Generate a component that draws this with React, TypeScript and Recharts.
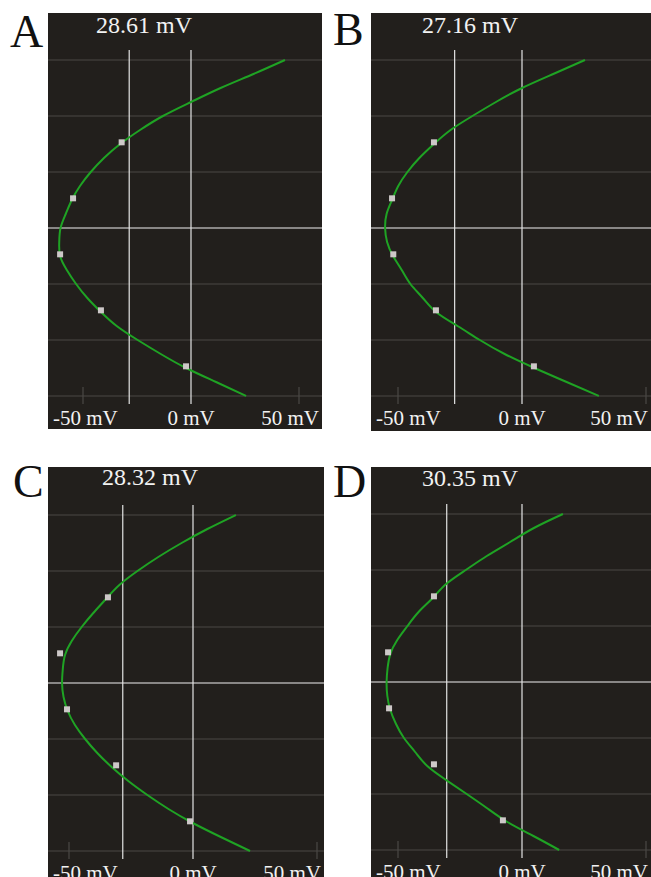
import React from 'react';
import { ComposedChart, Line, XAxis, YAxis, ReferenceLine } from 'recharts';

// Shared vertical levels (grid units, 0 = white centre line)
const yLevels = [3, 2.75, 2.5, 2.25, 2, 1.75, 1.5, 1.25, 1, 0.75, 0.5, 0.25, 0, -0.25, -0.5, -0.75, -1, -1.25, -1.5, -1.75, -2, -2.25, -2.5, -2.75, -3];

// Green trace values (mV) per panel, one per level
const curveA = [43.5, 28.9, 13.7, 0, -13, -23.6, -32.8, -40.3, -46.4, -51.4, -55.2, -58.0, -60.4, -61.0, -60.6, -57.5, -53.2, -48.0, -41.7, -34.4, -24.7, -14.0, -2.3, 11.6, 25.5];
const curveB = [25.4, 12.6, 0, -10.5, -20, -28.8, -35.5, -41.4, -46.2, -49.9, -52.4, -54.6, -55.2, -54.4, -52.0, -48.5, -45.0, -40.0, -34.7, -26.0, -17.0, -7.0, 5.0, 18.0, 31.0];
const curveC = [17.3, 5.8, -4.6, -14.0, -22.4, -29.7, -35.1, -40.2, -44.9, -48.9, -51.6, -52.5, -52.8, -52.2, -50.5, -47.6, -43.5, -38.6, -32.8, -26.1, -18.4, -9.9, -0.1, 11.2, 23.0];
const curveD = [16.5, 4.8, -4.8, -14.2, -22.7, -30.6, -36.0, -41.7, -46.2, -50.3, -53.1, -54.2, -54.6, -54.3, -53.1, -50.8, -47.6, -43.1, -38.2, -30.6, -22.3, -14.2, -5.9, 4.6, 15.0];

// Grey square markers
const squareLevels = [1.53, 0.53, -0.47, -1.47, -2.47];
const squaresA = [-32.1, -54.6, -60.6, -41.7, -2.3];
const squaresB = [-35.5, -52.4, -51.9, -34.7, 4.8];
const squaresC = [-34.3, -53.6, -50.8, -31.0, -1.2];
const squaresD = [-35.5, -54.0, -53.6, -35.5, -7.7];

const xTicks = [-50, 0, 50];
const gridLevels = [-3, -2, -1, 1, 2, 3];
const panelLetters = ['A', 'B', 'C', 'D'];
const cursorDiffs = [28.61, 27.16, 28.32, 30.35];

const curves = [curveA, curveB, curveC, curveD];
const squares = [squaresA, squaresB, squaresC, squaresD];

// Layout (pixels)
const layouts = [
  { left: 48, top: 13, width: 274, height: 416, center: 228, zero: 191, scale: 2.16, titleX: 96, titleY: 33, letterX: 10, letterY: 47 },
  { left: 371, top: 13, width: 280, height: 418, center: 228, zero: 522, scale: 2.48, titleX: 422, titleY: 33, letterX: 333, letterY: 45 },
  { left: 48, top: 467, width: 276, height: 420, center: 683, zero: 193, scale: 2.48, titleX: 102, titleY: 485, letterX: 13, letterY: 497 },
  { left: 371, top: 467, width: 280, height: 420, center: 682, zero: 522, scale: 2.48, titleX: 422, titleY: 486, letterX: 333, letterY: 497 },
];

const UNIT = 56;
const ABOVE = 178;
const BELOW = 176;

const BG = '#221f1c';
const GRID = '#4b4845';
const CURSOR = '#e4e4e4';
const CENTER = '#f0f0f0';
const GREEN = '#1fa324';
const SQUARE = '#cdc8c8';
const SERIF = "'Liberation Serif', 'Times New Roman', serif";

const charW: Record<string, number> = { '-': 0.333, '0': 0.5, '5': 0.5, ' ': 0.25, m: 0.778, V: 0.722 };

const toPoints = (xs: number[], ys: number[]) => xs.map((x, i) => ({ x, y: ys[i] }));

function makeTick(width: number) {
  return (props: any) => {
    const { x, y, payload } = props;
    const v = payload.value;
    const label = `${v} mV`;
    const w = label.split('').reduce((s, c) => s + (charW[c] ?? 0.5), 0) * 21;
    let anchor: 'middle' | 'start' | 'end' = 'middle';
    let tx = x;
    if (x - w / 2 < 5) {
      anchor = 'start';
      tx = 5;
    } else if (x + w / 2 > width - 3) {
      anchor = 'end';
      tx = width - 3;
    }
    return (
      <g>
        {v !== 0 && <line x1={x} x2={x} y1={y - 17} y2={y} stroke={GRID} strokeWidth={1.2} />}
        <text x={tx} y={y + 21} textAnchor={anchor} fill="#f2f2f2" fontSize={21} fontFamily={SERIF}>
          {label}
        </text>
      </g>
    );
  };
}

const squareDot = (props: any) => {
  const { cx, cy, index } = props;
  if (cx == null || cy == null) return <g key={`sq-${index}`} />;
  return <rect key={`sq-${index}`} x={cx - 3} y={cy - 3} width={6} height={6} fill={SQUARE} />;
};

function Panel({ idx }: { idx: number }) {
  const L = layouts[idx];
  const marginTop = (L.center - L.top) - ABOVE;
  const plotH = ABOVE + BELOW;
  const axisH = L.height - marginTop - plotH;
  const xDomain = [(0 - (L.zero - L.left)) / L.scale, (L.width - (L.zero - L.left)) / L.scale];
  const yDomain = [-BELOW / UNIT, ABOVE / UNIT];
  const curveData = toPoints(curves[idx], yLevels);
  const squareData = toPoints(squares[idx], squareLevels);
  return (
    <div style={{ position: 'absolute', left: L.left, top: L.top, width: L.width, height: L.height, background: BG }}>
      <ComposedChart width={L.width} height={L.height} margin={{ top: marginTop, right: 0, bottom: 0, left: 0 }}>
        <XAxis
          type="number"
          dataKey="x"
          domain={xDomain}
          allowDataOverflow
          ticks={xTicks}
          interval={0}
          tickSize={0}
          tickMargin={0}
          axisLine={false}
          tickLine={false}
          height={axisH}
          tick={makeTick(L.width)}
        />
        <YAxis type="number" dataKey="y" domain={yDomain} allowDataOverflow hide />
        {gridLevels.map((g) => (
          <ReferenceLine key={`g${g}`} y={g} stroke={GRID} strokeWidth={1.2} />
        ))}
        <ReferenceLine y={0} stroke={CENTER} strokeWidth={1.2} />
        <ReferenceLine x={-cursorDiffs[idx]} stroke={CURSOR} strokeWidth={1.2} />
        <ReferenceLine x={0} stroke={CURSOR} strokeWidth={1.2} />
        <Line
          data={curveData}
          dataKey="y"
          type="natural"
          stroke={GREEN}
          strokeWidth={2}
          dot={false}
          activeDot={false}
          isAnimationActive={false}
        />
        <Line
          data={squareData}
          dataKey="y"
          type="linear"
          stroke="none"
          dot={squareDot}
          activeDot={false}
          isAnimationActive={false}
        />
      </ComposedChart>
    </div>
  );
}

export default function App() {
  return (
    <div style={{ position: 'absolute', left: 0, top: 0, width: 651, height: 877, overflow: 'hidden', background: '#fff' }}>
      {layouts.map((_, i) => (
        <Panel key={i} idx={i} />
      ))}
      <svg width={651} height={877} style={{ position: 'absolute', left: 0, top: 0, pointerEvents: 'none' }}>
        {layouts.map((L, i) => (
          <g key={i}>
            <text x={L.letterX} y={L.letterY} fontSize={46} fontFamily={SERIF} fill="#111">
              {panelLetters[i]}
            </text>
            <text x={L.titleX} y={L.titleY} fontSize={24} fontFamily={SERIF} fill="#f2f2f2">
              {`${cursorDiffs[i].toFixed(2)} mV`}
            </text>
          </g>
        ))}
      </svg>
    </div>
  );
}
